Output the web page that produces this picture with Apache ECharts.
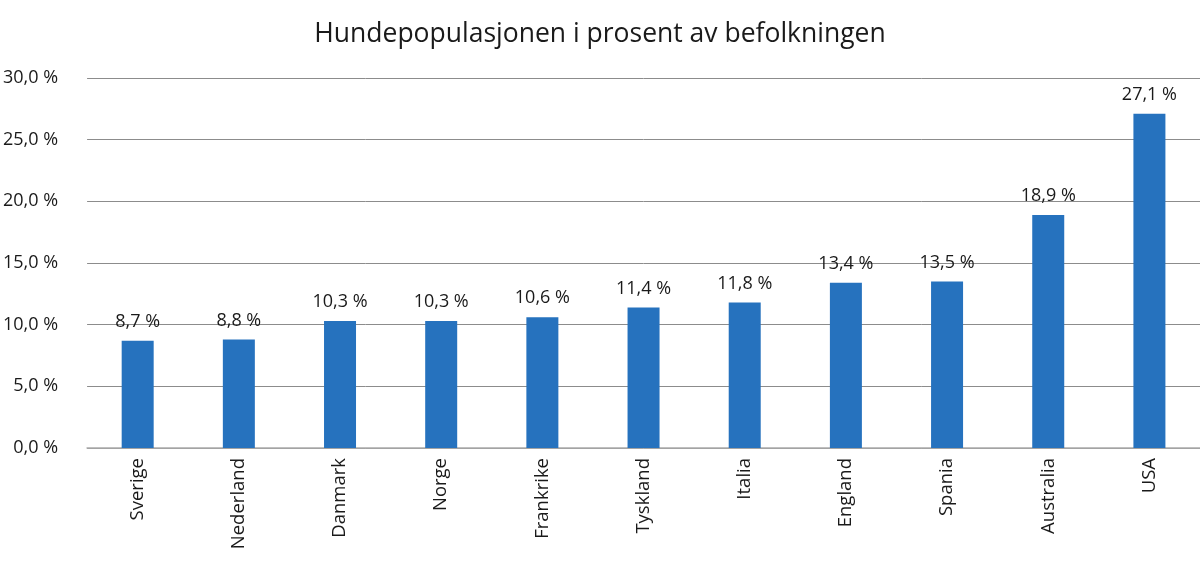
<!DOCTYPE html>
<html lang="no">
<head>
    <meta charset="UTF-8">
    <title>Hundepopulasjonen</title>
    <style>
        html, body { margin: 0; padding: 0; background: #fff; }
        #chart { width: 1200px; height: 569px; }
    </style>
</head>
<body>
<div id="chart"></div>
<script src="https://cdn.jsdelivr.net/npm/echarts@6/dist/echarts.min.js"></script>
<script type="text/javascript">
    var countries = ['Sverige', 'Nederland', 'Danmark', 'Norge', 'Frankrike', 'Tyskland',
        'Italia', 'England', 'Spania', 'Australia', 'USA'];
    var dogShare = [8.7, 8.8, 10.3, 10.3, 10.6, 11.4, 11.8, 13.4, 13.5, 18.9, 27.1];

    // 12,3 % style, Norwegian decimal comma
    function pct(v, d) {
        return v.toFixed(d).replace('.', ',') + ' %';
    }

    var chart = echarts.init(document.getElementById('chart'));
    var font = 'Open Sans';

    chart.setOption({
        animation: false,
        title: {
            text: 'Hundepopulasjonen i prosent av befolkningen',
            left: 'center',
            top: 16,
            textStyle: {fontFamily: font, fontSize: 26.5, fontWeight: 'normal', color: '#1a1a1a'}
        },
        grid: {left: 87, right: 0, top: 78, bottom: 121},
        xAxis: {
            type: 'category',
            data: countries,
            axisTick: {show: false},
            axisLine: {lineStyle: {color: '#aaa', width: 1.5}},
            axisLabel: {
                rotate: 90,
                margin: 10,
                fontFamily: font,
                fontSize: 18.5,
                color: '#1a1a1a'
            }
        },
        yAxis: {
            type: 'value',
            min: 0,
            max: 30,
            interval: 5,
            axisLine: {show: false},
            axisTick: {show: false},
            splitLine: {lineStyle: {color: '#8c8c8c', width: 1}},
            axisLabel: {
                margin: 29,
                fontFamily: font,
                fontSize: 18,
                color: '#1a1a1a',
                formatter: function (v) { return pct(v, 1); }
            }
        },
        series: [{
            type: 'bar',
            data: dogShare,
            barWidth: 32,
            itemStyle: {color: '#2672be'},
            label: {
                show: true,
                position: 'top',
                distance: 10,
                fontFamily: font,
                fontSize: 18,
                color: '#1a1a1a',
                formatter: function (p) { return pct(p.value, 1); }
            }
        }]
    });
</script>
</body>
</html>
